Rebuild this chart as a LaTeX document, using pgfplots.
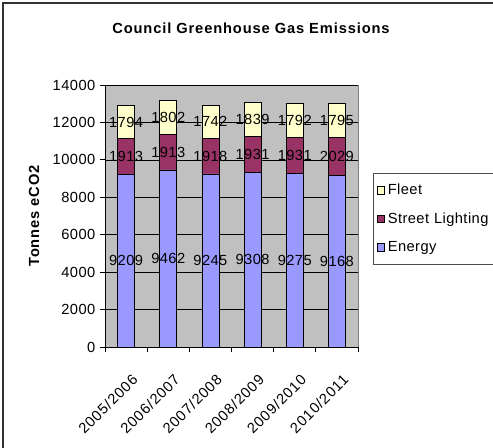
\documentclass[border=0pt]{standalone}
\usepackage{pgfplots}
\pgfplotsset{compat=1.18}
\usepackage{fontspec}
\setmainfont{Liberation Sans}
\definecolor{energy}{HTML}{9999FF}
\definecolor{street}{HTML}{993366}
\definecolor{fleet}{HTML}{FFFFCC}
\definecolor{plotbg}{HTML}{C0C0C0}
\newcommand{\lbl}{\fontsize{11}{13}\selectfont\addfontfeature{LetterSpace=3}}
\newcommand{\xlbl}{\fontsize{11}{13}\selectfont\addfontfeature{LetterSpace=6}}
\newcommand{\ttl}{\fontsize{11}{13}\selectfont\addfontfeature{LetterSpace=6}}
\begin{document}
\begin{tikzpicture}
\useasboundingbox (0,0) rectangle (369.75pt,336pt);
\draw[line width=0.9pt, black!80] (2.25pt,-2pt) -- (2.25pt,333.75pt) -- (372pt,333.75pt);
\node[font=\bfseries\ttl] at (188.25pt,314.5pt) {Council Greenhouse Gas Emissions};
\node[font=\bfseries\ttl, rotate=90] at (25.5pt,174pt) {Tonnes eCO2};
\pgfplotsset{common/.style={
  at={(78.75pt,75.75pt)}, anchor=south west,
  scale only axis, width=189.75pt, height=196.5pt,
  xmin=-0.5, xmax=5.5, ymin=0, ymax=14000}}
\begin{axis}[
  common,
  ybar stacked, bar width=12.75pt,
  ytick={0,2000,...,14000},
  xtick={0,...,5},
  xticklabels={2005/2006,2006/2007,2007/2008,2008/2009,2009/2010,2010/2011},
  minor xtick={-0.5,0.5,...,5.5},
  axis x line*=bottom, axis y line*=left,
  axis line style={black, line width=0.6pt},
  axis background/.style={fill=plotbg, draw=black!50},
  ymajorgrids, grid style={black, line width=0.5pt},
  tick align=outside,
  major tick length=3.75pt, minor tick length=3.75pt,
  x tick style={draw=none},
  minor x tick style={draw=black, line width=0.6pt},
  y tick style={black, line width=0.6pt},
  /pgf/number format/assume math mode=true,
  /pgf/number format/1000 sep={},
  scaled y ticks=false,
  yticklabel style={font=\lbl},
  xticklabel style={font=\xlbl, rotate=45, anchor=east, xshift=-7.5pt, yshift=-18pt, inner sep=1pt},
  legend cell align=left,
  reverse legend,
  legend style={at={(1.0593,0.6641)}, anchor=north west, font=\lbl, draw=black!70, fill=white,
     row sep=8pt, inner xsep=3pt, inner ysep=6pt, nodes={text width=80pt}},
  legend image code/.code={\draw[#1, draw=black, line width=0.5pt] (0pt,-2.7pt) rectangle (5.4pt,2.7pt);},
]
\addplot[fill=energy, draw=black, line width=0.6pt] coordinates {(0,9209) (1,9462) (2,9245) (3,9308) (4,9275) (5,9168)};
\addplot[fill=street, draw=black, line width=0.6pt] coordinates {(0,1913) (1,1913) (2,1918) (3,1931) (4,1931) (5,2029)};
\addplot[fill=fleet, draw=black, line width=0.6pt] coordinates {(0,1794) (1,1802) (2,1742) (3,1839) (4,1792) (5,1795)};
\legend{Energy,Street Lighting,Fleet}
\end{axis}
% data labels, centred in each segment
\begin{axis}[common, hide axis,
  nodes near coords, point meta=explicit symbolic,
  every node near coord/.append style={font=\lbl, black, anchor=center, inner sep=0pt}]
\addplot[only marks, mark=none] coordinates {
  (0,4604.5) [9209] (1,4731) [9462] (2,4622.5) [9245] (3,4654) [9308] (4,4637.5) [9275] (5,4584) [9168]};
\addplot[only marks, mark=none] coordinates {
  (0,10165.5) [1913] (1,10418.5) [1913] (2,10204) [1918] (3,10273.5) [1931] (4,10240.5) [1931] (5,10182.5) [2029]};
\addplot[only marks, mark=none] coordinates {
  (0,12019) [1794] (1,12276) [1802] (2,12034) [1742] (3,12158.5) [1839] (4,12102) [1792] (5,12094.5) [1795]};
\end{axis}
\end{tikzpicture}
\end{document}
